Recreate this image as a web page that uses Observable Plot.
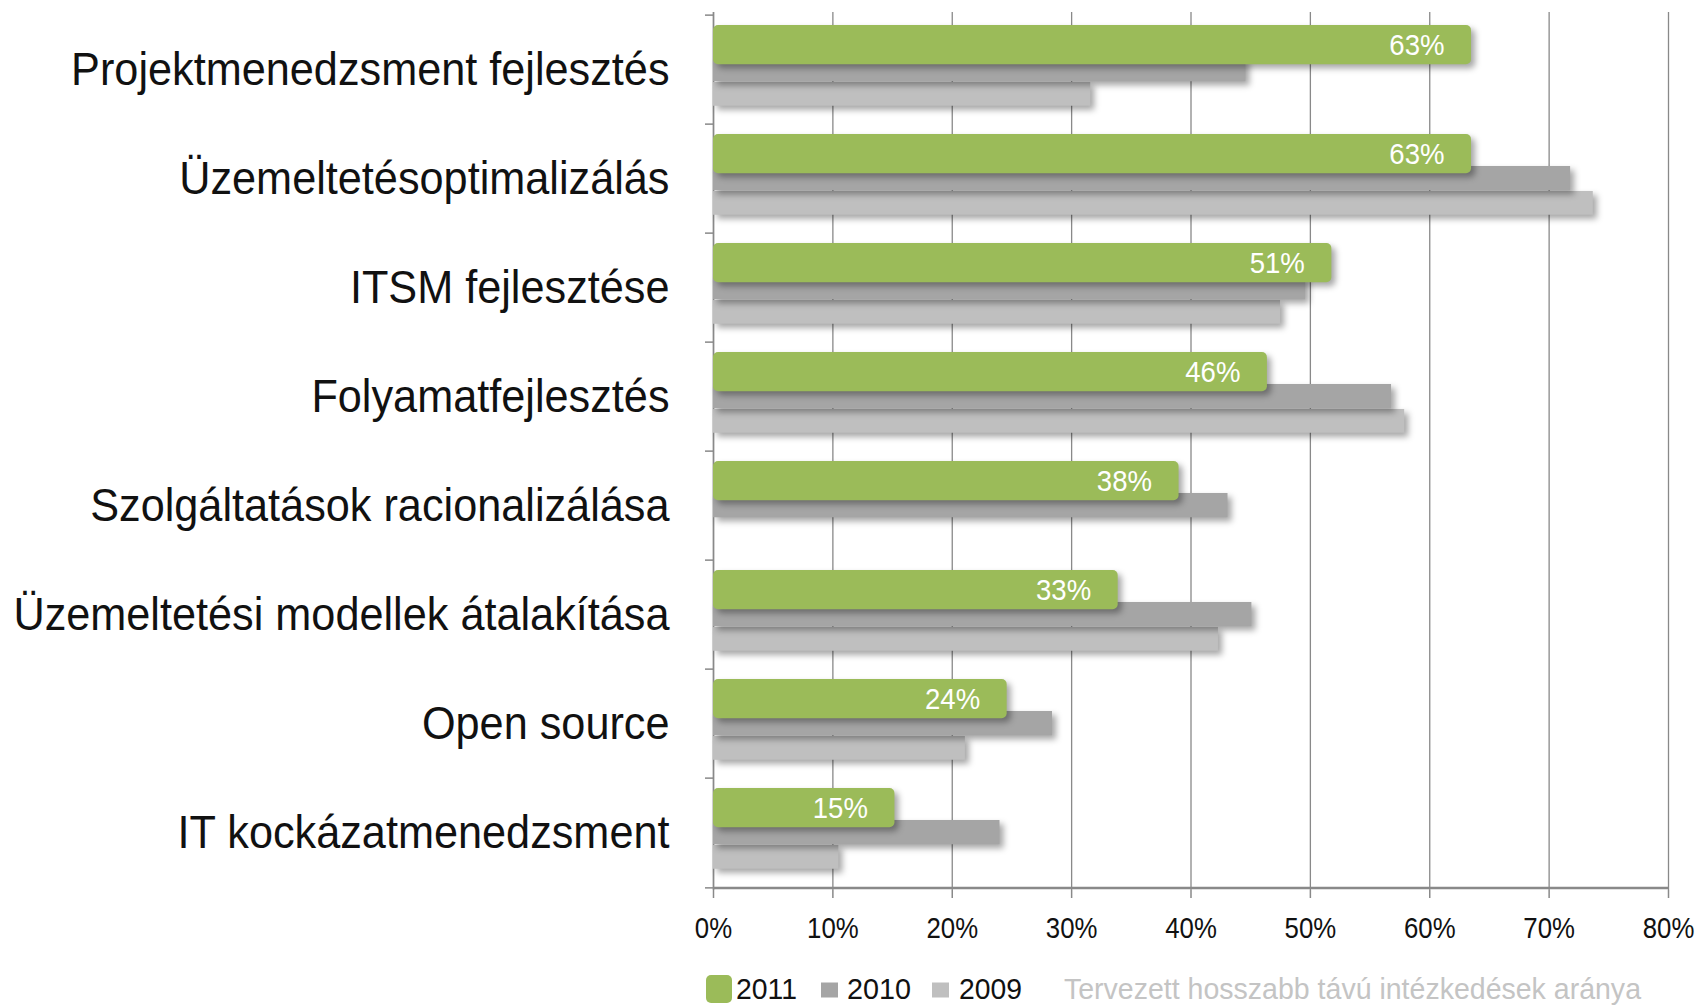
<!DOCTYPE html>
<html><head><meta charset="utf-8">
<script src="https://cdn.jsdelivr.net/npm/d3@7"></script>
<script src="https://cdn.jsdelivr.net/npm/@observablehq/plot@0.6"></script>
<style>
body{margin:0;background:#fff;font-family:"Liberation Sans",Arial,sans-serif;overflow:hidden;}
#chart{position:absolute;left:0;top:0;}
#legend{position:absolute;left:0;top:960px;}
</style></head><body><div id="chart"></div><div id="legend"></div>
<script>
const categories = ["Projektmenedzsment fejlesztés","Üzemeltetésoptimalizálás","ITSM fejlesztése","Folyamatfejlesztés","Szolgáltatások racionalizálása","Üzemeltetési modellek átalakítása","Open source","IT kockázatmenedzsment"];
const v2011 = [63.5, 63.5, 51.8, 46.4, 39.0, 33.9, 24.6, 15.2];
const labels2011 = ["63%", "63%", "51%", "46%", "38%", "33%", "24%", "15%"];
const v2010 = [44.6, 71.8, 49.6, 56.8, 43.1, 45.1, 28.4, 24.0];
const v2009 = [31.6, 73.7, 47.5, 57.9, null, 42.3, 21.1, 10.5];
const xTicks = [0, 10, 20, 30, 40, 50, 60, 70, 80];
const seriesNames = ["2011", "2010", "2009"];
const seriesColors = ["#9BBB59", "#A5A5A5", "#BFBFBF"];
const note = "Tervezett hosszabb távú intézkedések aránya";

const W = 1708, H = 960, mt = 12, mb = H - 890, ml = 713, mr = 40;
const bw = (H - mt - mb) / categories.length;
const rows = (vals, s) => categories.map((c, i) => ({cat: c, value: vals[i], series: s, label: s === "2011" ? labels2011[i] : ""})).filter(d => d.value != null);
const r2011 = rows(v2011, seriesNames[0]);
const r2010 = rows(v2010, seriesNames[1]);
const r2009 = rows(v2009, seriesNames[2]);
const gridColor = "#898989";
const fontFam = '"Liberation Sans",Arial,sans-serif';

const plot = Plot.plot({
  width: W, height: H, marginTop: mt, marginBottom: mb, marginLeft: ml, marginRight: mr,
  style: {fontFamily: fontFam, background: "#fff", color: "#111"},
  x: {domain: [0, 80], ticks: xTicks, tickFormat: d => d + "%"},
  y: {domain: categories, padding: 0},
  marks: [
    Plot.gridX(xTicks, {stroke: gridColor, strokeOpacity: 1, strokeWidth: 1.3}),
    Plot.ruleX([0], {stroke: gridColor, strokeWidth: 1.5}),
    Plot.ruleY(categories, {y: d => d, dy: -bw / 2, x1: 0, x2: 0, insetLeft: -8, stroke: gridColor, strokeWidth: 1.5}),
    Plot.ruleY(categories.slice(-1), {y: d => d, dy: bw / 2, x1: 0, x2: 0, insetLeft: -8, stroke: gridColor, strokeWidth: 1.5}),
    Plot.ruleY(categories.slice(-1), {y: d => d, dy: bw / 2, stroke: gridColor, strokeWidth: 2.5}),
    Plot.axisX({ticks: xTicks, tickFormat: d => d + "%", tickSize: 8, tickPadding: 18, fontSize: 30, stroke: gridColor, strokeWidth: 1.5, fill: "#111", label: null}),
    Plot.axisY({tickSize: 0, tickPadding: 44, fontSize: 47, fill: "#111", label: null}),
    Plot.barX(r2009, {x: "value", y: "cat", fill: seriesColors[2], insetTop: 67, insetBottom: bw - 91.5}),
    Plot.barX(r2010, {x: "value", y: "cat", fill: seriesColors[1], insetTop: 42, insetBottom: bw - 67}),
    Plot.barX(r2011, {x: "value", y: "cat", fill: seriesColors[0], insetTop: 10, insetBottom: bw - 50, rx: 5}),
    Plot.text(r2011, {x: "value", y: "cat", text: "label", textAnchor: "end", dx: -27, dy: -25, fill: "white", fontSize: 30})
  ]
});
plot.querySelectorAll('g[aria-label="bar"]').forEach(g => {
  g.style.filter = "drop-shadow(4px 4px 3px rgba(0,0,0,0.35))";
});
document.getElementById("chart").appendChild(plot);

function squeeze(sel, factor) {
  plot.querySelectorAll(sel).forEach(t => {
    const w = t.getComputedTextLength();
    t.setAttribute("textLength", (w * factor).toFixed(1));
    t.setAttribute("lengthAdjust", "spacingAndGlyphs");
  });
}
squeeze('g[aria-label="y-axis tick label"] text', 0.92);
squeeze('g[aria-label="x-axis tick label"] text', 0.86);
squeeze('g[aria-label="text"] text', 0.92);

// legend (separate svg below the chart)
const lg = d3.select("#legend").append("svg").attr("width", W).attr("height", 45)
  .style("font-family", fontFam);
const sw = [{w: 26, h: 28, r: 5, gapBefore: 0, gapAfter: 4, tw: 61},
            {w: 17, h: 15, r: 0, gapBefore: 24, gapAfter: 9, tw: 64},
            {w: 17, h: 15, r: 0, gapBefore: 21, gapAfter: 10, tw: 63}];
let cx = 706;
const base = 38.5, mid = 29;
seriesNames.forEach((s, i) => {
  cx += sw[i].gapBefore;
  lg.append("rect").attr("x", cx).attr("y", mid - sw[i].h / 2 + (i === 0 ? 0 : 1)).attr("width", sw[i].w).attr("height", sw[i].h)
    .attr("rx", sw[i].r).attr("fill", seriesColors[i]);
  cx += sw[i].w + sw[i].gapAfter;
  lg.append("text").attr("x", cx).attr("y", base).attr("font-size", 30).attr("fill", "#111")
    .attr("textLength", sw[i].tw).attr("lengthAdjust", "spacingAndGlyphs").text(s);
  cx += sw[i].tw;
});
cx += 42;
lg.append("text").attr("x", cx).attr("y", base).attr("font-size", 30).attr("fill", "#c4c4c4")
  .attr("textLength", 577).attr("lengthAdjust", "spacingAndGlyphs").text(note);
</script></body></html>
